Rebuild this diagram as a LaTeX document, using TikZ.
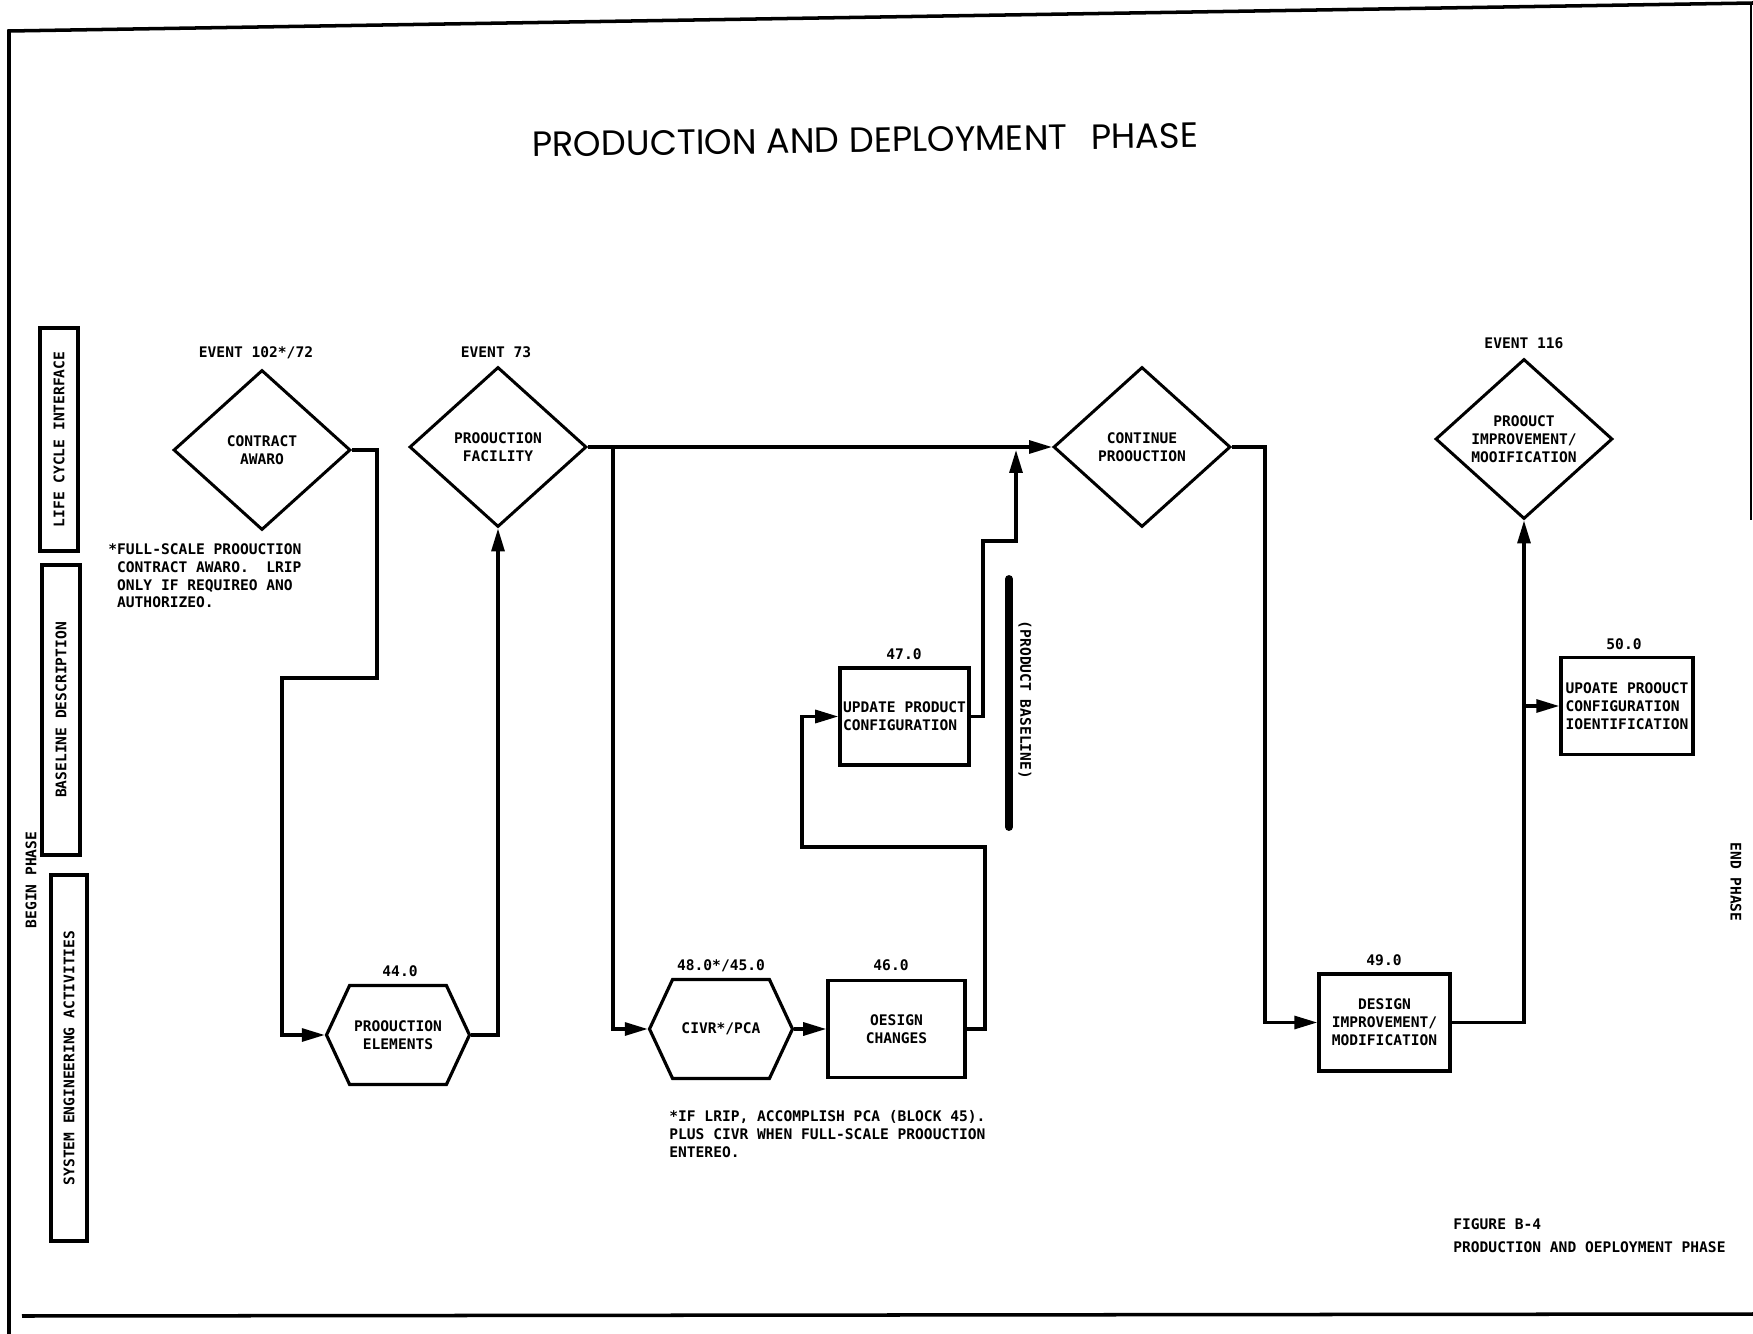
\documentclass[tikz,border=0pt]{standalone}
\usepackage{fontspec}
\newfontfamily\gothic{DejaVu Sans Mono}
\newfontfamily\titulo{Poppins}
\usetikzlibrary{arrows.meta, shapes.geometric, shapes.symbols}
\newcommand{\tipo}{\gothic\bfseries\fontsize{8.3}{10.2}\selectfont}

\begin{document}
\begin{tikzpicture}[
    caja/.style={draw, line width=2pt, align=center, inner sep=1pt,
                 minimum width=2.64cm, minimum height=1.94cm, font=\tipo},
    rombo/.style={draw, diamond, line width=1.7pt, align=center, inner sep=0pt,
                  minimum width=3.54cm, minimum height=3.2cm, font=\tipo},
    hexa/.style={draw, signal, signal to=west and east, signal pointer angle=130,
                 line width=1.8pt, align=center, inner sep=0pt,
                 minimum width=2.86cm, minimum height=1.98cm, font=\tipo},
    lado/.style={draw, rotate=90, line width=1.8pt, inner sep=0pt,
                 minimum height=0.76cm, font=\tipo},
    num/.style={font=\tipo},
    nota/.style={font=\tipo, align=left, anchor=north west, inner sep=0pt},
    fl/.style={-{Triangle[length=0.46cm, width=0.26cm]}, line width=1.8pt}]
    \useasboundingbox (0,0) rectangle (35.06,-26.68);
    % marco
    \draw[line width=2pt] (35.06,-0.06) -- (0.18,-0.62) -- (0.18,-26.68);
    \draw[line width=2pt] (0.44,-26.32) -- (35.06,-26.28);
    \draw[line width=1pt] (35.02,-0.06) -- (35.02,-10.4);
    \node[font=\titulo\fontsize{20}{24}\selectfont, rotate=0.8] (t) at (17.3,-2.8)
        {PRODUCTION AND DEPLOYMENT\hspace{0.4em} PHASE};
    % bandas
    \node[lado, minimum width=4.46cm] (l1) at (1.18,-8.79) {LIFE CYCLE INTERFACE};
    \node[lado, minimum width=5.8cm] (l2) at (1.22,-14.2) {BASELINE DESCRIPTION};
    \node[lado, minimum width=7.32cm, minimum height=0.72cm] (l3) at (1.38,-21.16)
        {SYSTEM ENGINEERING ACTIVITIES};
    \node[num, rotate=90] (bp) at (0.62,-17.6) {BEGIN PHASE};
    \node[num, rotate=-90] (ep) at (34.72,-17.64) {END PHASE};
    % eventos
    \node[rombo] (a) at (5.24,-9.0)   {CONTRACT\\AWARO};
    \node[rombo] (b) at (9.96,-8.94)  {PROOUCTION\\FACILITY};
    \node[rombo] (c) at (22.84,-8.94) {CONTINUE\\PROOUCTION};
    \node[rombo] (d) at (30.48,-8.78) {PROOUCT\\IMPROVEMENT/\\MOOIFICATION};
    \node[num] (na) at (5.12,-7.06)  {EVENT 102*/72};
    \node[num] (nb) at (9.92,-7.04)  {EVENT 73};
    \node[num] (nd) at (30.48,-6.86) {EVENT 116};
    % bloques
    \node[hexa] (e) at (7.96,-20.7)   {PROOUCTION\\ELEMENTS};
    \node[hexa] (f) at (14.42,-20.58) {CIVR*/PCA};
    \node[caja, minimum width=2.74cm] (g) at (17.93,-20.58) {OESIGN\\CHANGES};
    \node[caja, minimum width=2.58cm, align=left] (h) at (18.09,-14.33)
        {UPDATE PRODUCT\\CONFIGURATION};
    \node[caja, minimum width=2.62cm] (i) at (27.69,-20.45)
        {DESIGN\\IMPROVEMENT/\\MODIFICATION};
    \node[caja, align=left] (j) at (32.54,-14.12)
        {UPOATE PROOUCT\\CONFIGURATION\\IOENTIFICATION};
    \node[num] (ne) at (8.0,-19.42)   {44.0};
    \node[num] (nf) at (14.42,-19.32) {48.0*/45.0};
    \node[num] (ng) at (17.82,-19.3)  {46.0};
    \node[num] (nh) at (18.08,-13.08) {47.0};
    \node[num] (ni) at (27.68,-19.2)  {49.0};
    \node[num] (nj) at (32.48,-12.88) {50.0};
    % flechas
    \coordinate (p1) at (12.26,-8.94);
    \coordinate (p2) at (20.32,-9.0);
    \coordinate (p3) at (30.48,-14.12);
    \draw[fl] (a.east) -| (7.54,-13.56) -| (5.64,-20.7) -- (e.west);
    \draw[fl] (e.east) -| (b.south);
    \draw[fl] (b.east) -- (c.west);
    \draw[fl] (p1) |- (f.west);
    \draw[fl] (f.east) -- (g.west);
    \draw[fl] (g.east) -| (19.7,-16.94) -| (16.04,-14.33) -- (h.west);
    \draw[fl] (h.east) -| (19.66,-10.82) -| (p2);
    \draw[fl] (c.east) -| (25.3,-20.45) -- (i.west);
    \draw[fl] (i.east) -| (d.south);
    \draw[fl] (p3) -- (j.west);
    % linea base
    \draw[line width=4.5pt, line cap=round] (20.18,-11.58) -- (20.18,-16.54);
    \node[num, rotate=-90] (pb) at (20.5,-14.0) {(PRODUCT BASELINE)};
    % notas
    \node[nota] (n1) at (2.16,-10.86)
        {*FULL-SCALE PROOUCTION\\\hphantom{*}CONTRACT AWARO.~ LRIP\\
         \hphantom{*}ONLY IF REQUIREO ANO\\\hphantom{*}AUTHORIZEO.};
    \node[nota] (n2) at (13.38,-22.2)
        {*IF LRIP, ACCOMPLISH PCA (BLOCK 45).\\PLUS CIVR WHEN FULL-SCALE PROOUCTION\\ENTEREO.};
    \node[nota] (cap) at (29.06,-24.36) {FIGURE B-4\\[3pt]PRODUCTION AND OEPLOYMENT PHASE};
\end{tikzpicture}
\end{document}
